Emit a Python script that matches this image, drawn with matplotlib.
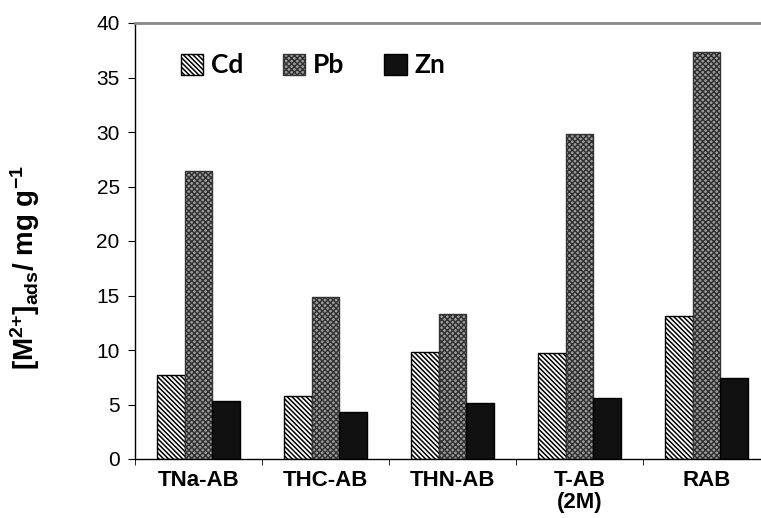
import numpy as np
import matplotlib
matplotlib.use('Agg')
from matplotlib import pyplot as plt

plt.rcParams['font.family'] = ['Liberation Sans', 'DejaVu Sans']
plt.rcParams['mathtext.fontset'] = 'custom'
plt.rcParams['mathtext.rm'] = 'Liberation Sans:bold'
plt.rcParams['mathtext.bf'] = 'Liberation Sans:bold'
plt.rcParams['mathtext.default'] = 'bf'
plt.rcParams['hatch.linewidth'] = 1.1

categories = ['TNa-AB', 'THC-AB', 'THN-AB', 'T-AB\n(2M)', 'RAB']
cd = [7.7, 5.8, 9.8, 9.7, 13.1]
pb = [26.4, 14.9, 13.3, 29.8, 37.3]
zn = [5.3, 4.3, 5.1, 5.6, 7.4]

fig = plt.figure(figsize=(7.61, 5.18), dpi=100)
ax = fig.add_axes([135/761, 1-459/518, (761-135)/761, 436/518])

x = np.arange(len(categories))
w = 0.22
ax.bar(x - w, cd, w, color='white', edgecolor='black', hatch='\\' * 7, lw=1.0, label='Cd')
ax.bar(x, pb, w, color='#a0a0a0', edgecolor='#333333', hatch='x' * 6, lw=1.0, label='Pb')
ax.bar(x + w, zn, w, color='#111111', edgecolor='black', lw=1.0, label='Zn')

ax.set_ylim(0, 40)
ax.set_yticks(range(0, 41, 5))
ax.set_xlim(-0.5, -0.5 + (761-135)/127)
ax.set_xticks(x)
ax.set_xticklabels(categories, fontweight='bold', fontsize=16, linespacing=1.05)
ax.set_xticks(np.arange(len(categories)) - 0.5, minor=True)
ax.tick_params(axis='x', which='major', length=0, pad=8)
ax.tick_params(axis='x', which='minor', length=4, direction='out')
ax.tick_params(axis='y', labelsize=15, length=5, direction='out', pad=6)

ax.spines['top'].set_color('#888888')
ax.spines['top'].set_linewidth(2)
ax.spines['right'].set_visible(False)
ax.spines['left'].set_linewidth(1.0)
ax.spines['bottom'].set_linewidth(1.0)

ax.set_ylabel('[M$^{2{+}}$]$_{ads}$/ mg g$^{-1}$', fontsize=20, fontweight='bold')
ax.yaxis.set_label_coords(-0.148, 0.438)

h, l = ax.get_legend_handles_labels()
ax.legend(h, l, ncol=3, frameon=False, loc='upper left', bbox_to_anchor=(0.035, 0.985),
          prop={'family': 'Lato', 'weight': 'bold', 'size': 19},
          handlelength=0.85, handleheight=0.85, handletextpad=0.3, columnspacing=1.5)

fig.savefig('out.png', dpi=100)
